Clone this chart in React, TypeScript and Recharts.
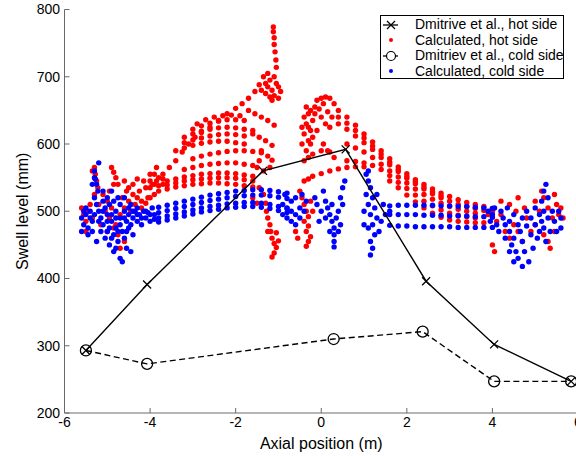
import React from 'react';
import { ScatterChart, Scatter, XAxis, YAxis, Legend, Label } from 'recharts';

type P = [number, number];

const xTicks = [-6, -4, -2, 0, 2, 4, 6];
const yTicks = [200, 300, 400, 500, 600, 700, 800];

// Measured (Dmitriev et al.)
const hotMeasX = [-5.5, -4.07, -1.36, 0.57, 2.45, 4.04, 5.84];
const hotMeasY = [293, 391, 560, 592, 396, 302, 247];
const coldMeasX = [-5.5, -4.07, 0.29, 2.37, 4.04, 5.84];
const coldMeasY = [293, 273, 310, 321, 247, 247];

// Calculated, hot side
const hotLeft: P[] = [
  [-5.6, 505], [-5.55, 495], [-5.5, 485], [-5.45, 500], [-5.4, 510], [-5.35, 490], [-5.3, 565], [-5.28, 555],
  [-5.25, 545], [-5.22, 535], [-5.3, 525], [-4.9, 565], [-4.85, 558], [-4.8, 550], [-4.85, 540], [-5.1, 525],
  [-5.0, 515], [-5.05, 500], [-4.95, 490], [-4.9, 505], [-4.8, 480], [-4.75, 465], [-4.7, 495], [-4.65, 520],
  [-4.7, 445], [-4.6, 505], [-4.55, 530], [-4.5, 515], [-4.45, 500], [-4.4, 525], [-4.35, 510], [-4.3, 520],
  [-4.25, 530], [-4.2, 515], [-4.15, 545], [-4.1, 535], [-4.05, 520], [-4.0, 555], [-3.95, 540], [-3.9, 525],
  [-3.85, 565], [-3.8, 550], [-5.15, 480], [-5.0, 470], [-4.85, 475], [-4.6, 455], [-5.2, 510], [-4.95, 530],
  [-4.75, 540], [-4.6, 545], [-4.4, 540], [-4.3, 548], [-4.2, 505], [-4.1, 512], [-4.0, 520], [-3.9, 540],
  [-3.8, 538], [-3.7, 540], [-4.0, 545], [-3.9, 555], [-3.7, 548], [-5.35, 560], [-5.5, 470], [-4.5, 535],
];
const hotRowsLeft: P[] = [
  [-3.8, 530], [-3.6, 533], [-3.4, 536], [-3.2, 538], [-3.0, 540], [-2.8, 541], [-2.6, 542], [-2.4, 542], [-2.2, 541], [-2.0, 540], [-1.8, 538], [-1.6, 536],
  [-3.6, 539], [-3.4, 542], [-3.2, 545], [-3.0, 547], [-2.8, 548], [-2.6, 549], [-2.4, 550], [-2.2, 550], [-2.0, 549], [-1.8, 547], [-1.6, 545],
  [-3.6, 545], [-3.4, 548], [-3.2, 551], [-3.0, 553], [-2.8, 555], [-2.6, 556], [-2.4, 557], [-2.2, 557], [-2.0, 556], [-1.8, 554], [-1.6, 552],
  [-3.2, 562], [-3.0, 565], [-2.8, 568], [-2.6, 570], [-2.4, 571], [-2.2, 572], [-2.0, 572], [-1.8, 570], [-1.6, 568],
  [-3.0, 578], [-2.8, 582], [-2.6, 585], [-2.4, 587], [-2.2, 589], [-2.0, 590], [-1.8, 590], [-1.6, 589], [-1.4, 587],
  [-3.4, 590], [-3.2, 594], [-3.0, 598], [-2.8, 601], [-2.6, 603], [-2.4, 604], [-2.2, 604], [-2.0, 602], [-1.8, 600],
  [-3.2, 602], [-3.0, 606], [-2.8, 609], [-2.6, 612], [-2.4, 614], [-2.2, 615], [-2.0, 614], [-1.8, 612],
  [-3.2, 610], [-3.0, 615], [-2.8, 619], [-2.6, 622], [-2.4, 624], [-2.2, 625], [-2.0, 624], [-1.8, 622], [-1.6, 620],
  [-3.0, 622], [-2.8, 627], [-2.6, 631], [-2.4, 634], [-2.2, 636], [-2.0, 636], [-1.8, 635],
  [-2.9, 630], [-2.7, 636], [-2.5, 640], [-2.3, 642], [-2.1, 643], [-1.9, 642],
];
const hotUpperArc: P[] = [
  [-4.0, 535], [-3.85, 545], [-3.7, 555], [-3.55, 565], [-3.4, 575], [-3.25, 588], [-3.1, 600], [-2.95, 610],
  [-2.8, 617], [-2.6, 625], [-2.4, 635], [-2.2, 645], [-2.0, 653], [-1.85, 660], [-1.7, 668], [-1.55, 678], [-1.45, 688],
  [-1.7, 650], [-1.55, 645], [-1.4, 640], [-1.25, 635], [-1.1, 628], [-1.6, 615], [-1.45, 610], [-1.3, 605], [-1.15, 598],
  [-1.4, 590], [-1.25, 582], [-1.15, 576], [-1.35, 560], [-1.2, 565], [-1.5, 565], [-1.45, 575],
];
const hotPeakLeft: P[] = [
  [-1.4, 680], [-1.35, 700], [-1.3, 690], [-1.3, 675], [-1.25, 705], [-1.25, 685], [-1.2, 695], [-1.2, 670],
  [-1.15, 680], [-1.15, 665], [-1.1, 700], [-1.1, 672], [-1.05, 690], [-1.0, 685], [-1.0, 668], [-0.95, 678],
  [-1.12, 774], [-1.12, 767], [-1.1, 758], [-1.1, 748], [-1.08, 737], [-1.06, 725], [-1.05, 714],
];
const hotDripLeft: P[] = [
  [-1.45, 535], [-1.35, 525], [-1.3, 512], [-1.28, 500], [-1.25, 490], [-1.2, 480], [-1.18, 470], [-1.15, 460],
  [-1.1, 452], [-1.05, 446], [-1.1, 438], [-1.15, 432], [-1.0, 456], [-1.05, 468], [-1.25, 470], [-1.6, 520], [-1.5, 512],
];
const hotPeakCenter: P[] = [
  [-0.45, 600], [-0.4, 615], [-0.4, 640], [-0.35, 590], [-0.35, 630], [-0.3, 605], [-0.3, 645], [-0.25, 620],
  [-0.2, 610], [-0.2, 635], [-0.15, 655], [-0.1, 620], [-0.1, 665], [0.0, 640], [0.0, 668], [0.05, 600],
  [0.1, 630], [0.1, 670], [0.15, 590], [0.2, 625], [0.2, 668], [0.3, 660], [-0.3, 625], [-0.25, 600], [-0.15, 645],
  [-0.4, 575], [-0.3, 580], [-0.2, 585], [0.0, 590], [0.2, 588], [0.3, 580], [-0.35, 655], [-0.25, 650],
  [-0.05, 652], [0.05, 660], [0.15, 648], [0.25, 640], [-0.45, 625],
  [-0.4, 545], [-0.3, 548], [-0.2, 552], [0.0, 556], [0.2, 560], [0.4, 563], [0.6, 565], [0.8, 566], [1.0, 566],
];
const hotDripCenter: P[] = [
  [-0.45, 520], [-0.4, 510], [-0.35, 500], [-0.3, 492], [-0.4, 485], [-0.3, 478], [-0.35, 470], [-0.25, 462],
  [-0.3, 455], [-0.35, 448], [-0.2, 500], [-0.25, 515], [-0.5, 530], [-0.6, 470], [-0.55, 460],
];
const hotDescending: P[] = [
  [0.4, 650], [0.6, 640], [0.8, 628], [1.0, 615], [1.2, 603], [1.4, 590], [1.6, 578], [1.8, 566], [2.0, 556], [2.2, 547],
  [2.4, 540], [2.6, 533], [2.8, 527], [3.0, 522], [3.2, 517], [3.4, 513], [3.6, 510], [3.8, 507], [4.0, 504],
  [0.4, 640], [0.6, 631], [0.8, 620], [1.0, 609], [1.2, 597], [1.4, 585], [1.6, 573], [1.8, 562], [2.0, 552], [2.2, 544],
  [2.4, 536], [2.6, 529], [2.8, 523],
  [0.4, 630], [0.6, 622], [0.8, 612], [1.0, 602], [1.2, 592], [1.4, 580], [1.6, 569], [1.8, 559], [2.0, 549], [2.2, 541],
  [2.4, 533], [2.6, 526], [2.8, 520], [3.0, 515], [3.2, 510], [3.4, 507], [3.6, 504], [3.8, 501],
  [0.6, 600], [0.8, 594], [1.0, 588], [1.2, 580], [1.4, 570], [1.6, 560], [1.8, 551], [2.0, 542], [2.2, 533],
  [2.4, 525], [2.6, 518], [2.8, 512], [3.0, 507], [3.2, 503], [3.4, 500], [3.6, 497],
  [0.6, 575], [0.8, 574], [1.0, 572], [1.2, 568], [1.4, 562], [1.6, 553], [1.8, 543], [2.0, 534], [2.2, 524],
  [2.4, 515], [2.6, 508], [2.8, 502], [3.0, 497], [3.2, 494], [3.4, 492], [3.6, 490],
  [1.6, 545], [1.8, 535], [2.0, 524], [2.2, 514], [2.4, 505], [2.6, 497], [2.8, 491], [3.0, 487], [3.2, 485],
  [3.4, 484], [3.6, 483], [3.8, 483],
];
const hotRight: P[] = [
  [3.9, 495], [4.0, 500], [4.1, 485], [4.2, 495], [4.3, 470], [4.4, 510], [4.4, 460], [4.5, 480], [4.55, 500],
  [4.6, 470], [4.7, 455], [4.8, 490], [4.9, 470], [5.0, 480], [5.0, 515], [5.1, 500], [5.2, 520], [5.2, 465],
  [5.3, 505], [5.3, 455], [5.35, 445], [5.4, 490], [5.45, 470], [5.5, 510], [5.55, 495], [5.6, 505], [4.2, 515],
  [4.6, 520], [4.75, 505], [5.15, 530], [5.45, 525], [5.65, 490], [4.0, 450], [4.05, 440],
];

// Calculated, cold side
const coldLeft: P[] = [
  [-5.6, 490], [-5.55, 480], [-5.5, 495], [-5.45, 475], [-5.4, 500], [-5.35, 485], [-5.3, 560], [-5.28, 548],
  [-5.25, 540], [-5.22, 530], [-5.2, 572], [-5.3, 520], [-5.25, 510], [-5.2, 500], [-5.15, 490], [-5.1, 515],
  [-5.05, 505], [-5.0, 495], [-5.15, 470], [-5.1, 480], [-5.05, 460], [-5.0, 470], [-4.95, 450], [-4.9, 485],
  [-4.9, 460], [-4.85, 440], [-4.8, 500], [-4.8, 475], [-4.75, 455], [-4.7, 490], [-4.7, 430], [-4.65, 470],
  [-4.65, 425], [-4.6, 500], [-4.6, 460], [-4.55, 485], [-4.55, 445], [-4.5, 495], [-4.5, 475], [-4.45, 440],
  [-4.4, 490], [-4.4, 465], [-4.35, 500], [-4.3, 485], [-4.25, 495], [-4.2, 480], [-4.15, 500], [-4.1, 490],
  [-4.05, 498], [-4.0, 485], [-3.95, 505], [-3.9, 495], [-5.1, 530], [-5.0, 520], [-4.95, 510], [-4.85, 515],
  [-4.75, 520], [-5.45, 465], [-5.35, 470], [-4.9, 530], [-4.7, 510], [-4.6, 520], [-4.45, 510], [-4.3, 505],
  [-5.25, 455], [-4.8, 445], [-5.5, 505], [-5.4, 490], [-5.3, 495], [-5.2, 485], [-5.1, 500], [-5.0, 485],
  [-4.9, 495], [-4.8, 490], [-4.7, 480], [-4.6, 490], [-4.5, 505], [-4.4, 500], [-4.3, 495], [-4.2, 490],
  [-4.1, 500], [-4.0, 495], [-3.9, 488], [-5.35, 540], [-5.3, 550], [-4.95, 475], [-4.85, 465], [-4.75, 470],
  [-4.55, 470], [-4.45, 480], [-5.6, 470], [-5.55, 500],
];
const coldBandX = [-3.8, -3.6, -3.4, -3.2, -3.0, -2.8, -2.6, -2.4, -2.2, -2.0, -1.8, -1.6, -1.4, -1.2, -1.0, -0.8];
const coldBandUpperA = [506, 509, 512, 515, 518, 521, 524, 526, 528, 530, 531, 532, 532, 531, 529, 527];
const coldBandUpperB = [498, 501, 504, 507, 510, 513, 516, 518, 520, 522, 523, 524, 524, 523, 521, 519];
const coldBandLowerA = [490, 493, 496, 499, 502, 505, 507, 509, 511, 512, 513, 513, 512, 510, 507, 504];
const coldBandLowerB = [484, 487, 490, 493, 496, 499, 501, 503, 505, 506, 507, 507, 506, 504, 501, 498];
const coldCenter: P[] = [
  [-0.9, 510], [-0.8, 505], [-0.7, 500], [-0.6, 495], [-0.5, 505], [-0.9, 495], [-0.8, 490], [-0.7, 515],
  [-0.6, 520], [-0.5, 490], [-0.4, 500], [-0.35, 515], [-0.6, 480], [-0.7, 485], [-0.45, 525], [-0.85, 525],
  [-0.15, 520], [-0.1, 510], [0.0, 500], [0.05, 530], [0.1, 515], [0.15, 505], [0.2, 495], [0.25, 485],
  [0.3, 475], [0.3, 465], [0.3, 455], [0.3, 447], [0.35, 490], [0.4, 500], [0.45, 520], [0.5, 535],
  [0.55, 545], [0.45, 480], [0.2, 470], [0.1, 490], [-0.05, 485], [0.25, 510], [0.4, 470], [0.5, 510],
];
const coldMidRight: P[] = [
  [1.05, 555], [1.1, 545], [1.15, 535], [1.05, 525], [1.2, 520], [1.1, 510], [1.0, 500], [1.15, 495],
  [1.25, 505], [1.3, 490], [1.2, 480], [1.1, 475], [1.35, 470], [1.25, 465], [1.15, 455], [1.2, 445],
  [1.15, 435], [1.4, 485], [1.5, 495], [1.6, 500], [1.45, 510], [1.0, 480], [1.3, 525], [1.1, 560],
];
const coldRowX = [1.6, 1.8, 2.0, 2.2, 2.4, 2.6, 2.8, 3.0, 3.2, 3.4, 3.6, 3.8, 4.0];
const coldRowTop = [508, 509, 509, 509, 509, 509, 508, 508, 507, 507, 506, 505, 504];
const coldRowMid = [495, 495, 495, 495, 494, 494, 494, 493, 493, 493, 492, 492, 491];
const coldRowLow = [479, 478, 478, 477, 477, 477, 477, 477, 476, 476, 476, 476, 476];
const coldRight: P[] = [
  [4.0, 495], [4.05, 505], [4.1, 480], [4.15, 470], [4.2, 500], [4.25, 490], [4.3, 480], [4.3, 460],
  [4.35, 505], [4.4, 485], [4.4, 470], [4.45, 450], [4.5, 495], [4.5, 460], [4.55, 440], [4.6, 480],
  [4.6, 430], [4.65, 470], [4.7, 418], [4.7, 490], [4.7, 455], [4.75, 440], [4.8, 500], [4.8, 478],
  [4.85, 425], [4.9, 490], [4.9, 465], [4.95, 445], [5.0, 505], [5.0, 480], [5.05, 460], [5.1, 495],
  [5.1, 470], [5.15, 515], [5.15, 485], [5.2, 530], [5.2, 500], [5.2, 475], [5.25, 540], [5.25, 455],
  [5.3, 520], [5.3, 490], [5.35, 470], [5.4, 500], [5.45, 485], [5.5, 470], [5.55, 500], [5.6, 490],
  [5.6, 475], [4.4, 440], [4.5, 425], [3.9, 500], [3.95, 485],
];

const toPts = (arr: P[]) => arr.map(([x, y]) => ({ x, y }));
const rowPts = (xs: number[], ys: number[]) => xs.map((x, i) => ({ x, y: ys[i] }));

const hotCalc = [
  ...toPts(hotLeft), ...toPts(hotRowsLeft), ...toPts(hotUpperArc), ...toPts(hotPeakLeft),
  ...toPts(hotDripLeft), ...toPts(hotPeakCenter), ...toPts(hotDripCenter), ...toPts(hotDescending), ...toPts(hotRight),
];
const coldCalc = [
  ...toPts(coldLeft),
  ...rowPts(coldBandX, coldBandUpperA), ...rowPts(coldBandX, coldBandUpperB),
  ...rowPts(coldBandX, coldBandLowerA), ...rowPts(coldBandX, coldBandLowerB),
  ...toPts(coldCenter), ...toPts(coldMidRight),
  ...rowPts(coldRowX, coldRowTop), ...rowPts(coldRowX, coldRowMid), ...rowPts(coldRowX, coldRowLow),
  ...toPts(coldRight),
];
const hotMeas = rowPts(hotMeasX, hotMeasY);
const coldMeas = rowPts(coldMeasX, coldMeasY);

const FONT = 'Arial, "Liberation Sans", Helvetica, sans-serif';
const AXIS = '#6a6a6a';

const RedDot = (p: any) => <circle cx={p.cx} cy={p.cy} r={2.7} fill="#ff0000" />;
const BlueDot = (p: any) => <circle cx={p.cx} cy={p.cy} r={2.7} fill="#0000ff" />;
const XMark = (p: any) => (
  <path d={`M${p.cx - 4},${p.cy - 4}L${p.cx + 4},${p.cy + 4}M${p.cx - 4},${p.cy + 4}L${p.cx + 4},${p.cy - 4}`} stroke="#000" strokeWidth={1.3} fill="none" />
);
const OMark = (p: any) => <circle cx={p.cx} cy={p.cy} r={5.5} stroke="#000" strokeWidth={1.3} fill="none" />;

const legendItems = [
  { label: 'Dmitrive et al., hot side', kind: 'x' },
  { label: 'Calculated, hot side', kind: 'red' },
  { label: 'Dmitriev et al., cold side', kind: 'o' },
  { label: 'Calculated, cold side', kind: 'blue' },
];

const LegendBox = () => (
  <div style={{ border: '1px solid #000', background: '#fff', width: 184, height: 64, boxSizing: 'border-box', padding: '1px 0 0 0', fontFamily: FONT, fontSize: 14, color: '#000' }}>
    {legendItems.map((it) => (
      <div key={it.label} style={{ display: 'flex', alignItems: 'center', height: 15.5, lineHeight: '15.5px', whiteSpace: 'nowrap' }}>
        <svg width={34} height={14} style={{ flex: 'none' }}>
          {(it.kind === 'x' || it.kind === 'o') && <line x1={2} y1={7} x2={17} y2={7} stroke="#000" strokeWidth={1.3} />}
          {it.kind === 'x' && <path d="M6,3L14,11M6,11L14,3" stroke="#000" strokeWidth={1.2} />}
          {it.kind === 'o' && <circle cx={10} cy={7} r={4.5} stroke="#000" strokeWidth={1.2} fill="#fff" />}
          {it.kind === 'red' && <circle cx={10} cy={7} r={2} fill="#ff0000" />}
          {it.kind === 'blue' && <circle cx={10} cy={7} r={2} fill="#0000ff" />}
        </svg>
        <span>{it.label}</span>
      </div>
    ))}
  </div>
);

const YLab = (props: any) => {
  const vb = props.viewBox || { x: 0, y: 9.5, width: 64.5, height: 403.5 };
  const cx = vb.x + 28;
  const cy = vb.y + vb.height / 2;
  return (
    <text x={cx} y={cy} transform={`rotate(-90 ${cx} ${cy})`} textAnchor="middle" fontSize={16} fontFamily={FONT} fill="#000">
      Swell level (mm)
    </text>
  );
};
const XLab = (props: any) => {
  const vb = props.viewBox || { x: 64.5, y: 413, width: 513.5, height: 43 };
  return (
    <text x={vb.x + vb.width / 2} y={vb.y + 36} textAnchor="middle" fontSize={16} fontFamily={FONT} fill="#000">
      Axial position (m)
    </text>
  );
};

export default function App() {
  const tickStyle = { fill: '#000', fontSize: 14, fontFamily: FONT };
  return (
    <div style={{ position: 'absolute', left: 0, top: 0, width: 576, height: 456, background: '#fff', overflow: 'hidden' }}>
      <ScatterChart width={582} height={456} margin={{ top: 9.5, right: 4, bottom: 0, left: 0 }}>
        <XAxis type="number" dataKey="x" domain={[-6, 6]} ticks={xTicks} allowDataOverflow
          height={43} tickSize={-5} tickMargin={9.5} stroke={AXIS} tick={tickStyle} tickLine={{ stroke: AXIS }}>
          <Label content={<XLab />} />
        </XAxis>
        <XAxis xAxisId="top" orientation="top" type="number" domain={[-6, 6]} ticks={xTicks} allowDataOverflow
          height={0} tickSize={-5} stroke={AXIS} tickFormatter={() => ''} tickLine={{ stroke: AXIS }} />
        <YAxis type="number" dataKey="y" domain={[200, 800]} ticks={yTicks} allowDataOverflow
          width={64.5} tickSize={-5} tickMargin={9.5} stroke={AXIS} tick={tickStyle} tickLine={{ stroke: AXIS }}>
          <Label content={<YLab />} />
        </YAxis>
        <YAxis yAxisId="right" orientation="right" type="number" domain={[200, 800]} ticks={yTicks} allowDataOverflow
          width={0} tickSize={-5} stroke={AXIS} tickFormatter={() => ''} tickLine={{ stroke: AXIS }} />
        <Legend layout="horizontal" verticalAlign="middle" align="center" content={<LegendBox />}
          wrapperStyle={{ left: 380, top: 15, width: 184, height: 64 }} />
        <Scatter name="Calculated, hot side" data={hotCalc} shape={RedDot} isAnimationActive={false} />
        <Scatter name="Calculated, cold side" data={coldCalc} shape={BlueDot} isAnimationActive={false} />
        <Scatter name="Dmitrive et al., hot side" data={hotMeas} shape={XMark} isAnimationActive={false}
          line={{ stroke: '#000', strokeWidth: 1.4 }} lineJointType="linear" />
        <Scatter name="Dmitriev et al., cold side" data={coldMeas} shape={OMark} isAnimationActive={false}
          line={{ stroke: '#000', strokeWidth: 1.4, strokeDasharray: '6 3.5' }} lineJointType="linear" />
      </ScatterChart>
    </div>
  );
}
